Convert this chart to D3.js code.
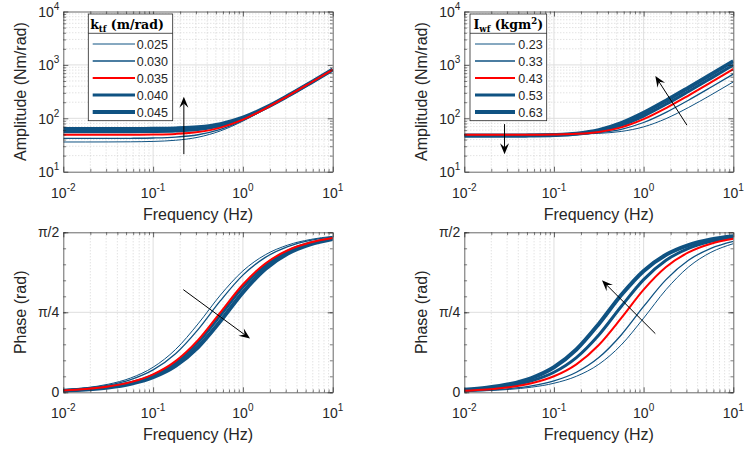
<!DOCTYPE html>
<html><head><meta charset="utf-8">
<script src="https://cdn.jsdelivr.net/npm/d3@7"></script>
<style>
body{margin:0;background:#fff}
svg{display:block;font-family:"Liberation Sans",Arial,Helvetica,sans-serif}
</style>
</head><body>
<svg id="fig" width="745" height="452"></svg>
<script>
// ---------------- data ----------------
const freqs = [0.01, 0.01778, 0.03162, 0.05623, 0.1, 0.1778, 0.3162, 0.5623, 1, 1.778, 3.162, 5.623, 10];

const ktfLabels = ["0.025", "0.030", "0.035", "0.040", "0.045"];
const iwfLabels = ["0.23", "0.33", "0.43", "0.53", "0.63"];

// amplitude (Nm/rad) for each k_tf
const ampKtf025 = [36.01, 36.03, 36.09, 36.29, 36.90, 38.78, 44.19, 58.08, 88.69, 148.5, 258.8, 457.2, 811.3];
const ampKtf030 = [42.01, 42.02, 42.08, 42.25, 42.77, 44.40, 49.20, 61.98, 91.29, 150.1, 259.7, 457.7, 811.6];
const ampKtf035 = [49.01, 49.02, 49.07, 49.21, 49.67, 51.08, 55.30, 66.92, 94.71, 152.2, 260.9, 458.4, 812.0];
const ampKtf040 = [56.01, 56.02, 56.06, 56.19, 56.58, 57.82, 61.59, 72.20, 98.51, 154.6, 262.3, 459.2, 812.4];
const ampKtf045 = [63.01, 63.02, 63.05, 63.17, 63.52, 64.63, 68.01, 77.76, 102.7, 157.3, 263.9, 460.1, 813.0];

// phase (rad) for each k_tf
const phKtf025 = [0.0251, 0.0447, 0.0792, 0.1404, 0.2461, 0.4202, 0.6712, 0.9548, 1.1919, 1.3505, 1.4456, 1.5001, 1.5310];
const phKtf030 = [0.0224, 0.0398, 0.0707, 0.1252, 0.2203, 0.3789, 0.6160, 0.8996, 1.1506, 1.3247, 1.4304, 1.4916, 1.5261];
const phKtf035 = [0.0178, 0.0316, 0.0561, 0.0997, 0.1760, 0.3063, 0.5122, 0.7854, 1.0586, 1.2645, 1.3948, 1.4711, 1.5147];
const phKtf040 = [0.0168, 0.0299, 0.0531, 0.0943, 0.1666, 0.2905, 0.4884, 0.7567, 1.0333, 1.2472, 1.3844, 1.4651, 1.5113];
const phKtf045 = [0.0150, 0.0267, 0.0474, 0.0841, 0.1488, 0.2604, 0.4424, 0.6996, 0.9814, 1.2109, 1.3622, 1.4524, 1.5040];

// amplitude (Nm/rad) for each I_wf
const ampIwf023 = [50.00, 50.01, 50.02, 50.07, 50.23, 50.72, 52.23, 56.75, 69.14, 98.54, 159.1, 273.1, 480.1];
const ampIwf033 = [49.50, 49.51, 49.55, 49.64, 49.95, 50.92, 53.87, 62.28, 83.49, 129.4, 218.3, 381.2, 674.1];
const ampIwf043 = [49.01, 49.02, 49.07, 49.22, 49.70, 51.17, 55.58, 67.65, 96.33, 155.4, 266.8, 469.0, 830.8];
const ampIwf053 = [48.01, 48.03, 48.10, 48.32, 49.02, 51.14, 57.35, 73.62, 110.3, 182.9, 317.5, 560.3, 993.9];
const ampIwf063 = [47.01, 47.05, 47.15, 47.46, 48.45, 51.43, 59.91, 81.08, 126.5, 214.1, 374.5, 662.4, 1175.9];

// phase (rad) for each I_wf
const phIwf023 = [0.0089, 0.0158, 0.0282, 0.0501, 0.0889, 0.1572, 0.2747, 0.4646, 0.7280, 1.0079, 1.2298, 1.3739, 1.4591];
const phIwf033 = [0.0112, 0.0200, 0.0355, 0.0630, 0.1117, 0.1969, 0.3410, 0.5629, 0.8428, 1.1062, 1.2961, 1.4136, 1.4819];
const phIwf043 = [0.0158, 0.0282, 0.0501, 0.0889, 0.1572, 0.2747, 0.4646, 0.7280, 1.0079, 1.2298, 1.3739, 1.4591, 1.5078];
const phIwf053 = [0.0200, 0.0355, 0.0630, 0.1117, 0.1969, 0.3410, 0.5629, 0.8428, 1.1062, 1.2961, 1.4136, 1.4819, 1.5207];
const phIwf063 = [0.0251, 0.0447, 0.0792, 0.1404, 0.2461, 0.4202, 0.6712, 0.9548, 1.1919, 1.3505, 1.4456, 1.5001, 1.5310];

// ticks
const xTickValues = [0.01, 0.1, 1, 10];
const xTickExps = ["-2", "-1", "0", "1"];
const ampTickValues = [10, 100, 1000, 10000];
const ampTickExps = ["1", "2", "3", "4"];
const phaseTickValues = [0, Math.PI / 4, Math.PI / 2];
const phaseTickLabels = ["0", "\u03C0/4", "\u03C0/2"];

// arrow annotations in data units [frequency, value]
const arrowsAmpKtf = [{from: [0.22, 21.3], to: [0.22, 253]}];
const arrowsAmpIwf = [{from: [3.04, 74.5], to: [1.35, 618]}, {from: [0.0281, 77.8], to: [0.0281, 21.3]}];
const arrowsPhKtf = [{from: [0.217, 1.008], to: [1.2, 0.527]}];
const arrowsPhIwf = [{from: [1.35, 0.576], to: [0.343, 1.0996]}];

// ---------------- styles ----------------
const BLUE = "#0f5282", RED = "#ff0000", INK = "#262626";
const seriesColors = [BLUE, BLUE, RED, BLUE, BLUE];
const seriesWidths = [1, 1.3, 2, 3, 4];
const drawOrder = [0, 1, 3, 4, 2];

const svg = d3.select("#fig");

const panels = [
  {x0: 63.3, x1: 332.7, y0: 11.5, y1: 171.7, kind: "amp",
   series: [ampKtf025, ampKtf030, ampKtf035, ampKtf040, ampKtf045], arrows: arrowsAmpKtf,
   ylabel: "Amplitude (Nm/rad)", ylabelX: 20,
   legend: {labels: ktfLabels, title: "ktf", x0: 88.3, x1: 172.7, y0: 14, y1: 120.7, div: 33.3,
            lx0: 92.7, lx1: 135, tx: 136.7, titleX: 127}},
  {x0: 464.3, x1: 733.3, y0: 11.5, y1: 171.7, kind: "amp",
   series: [ampIwf023, ampIwf033, ampIwf043, ampIwf053, ampIwf063], arrows: arrowsAmpIwf,
   ylabel: "Amplitude (Nm/rad)", ylabelX: 421.7,
   legend: {labels: iwfLabels, title: "iwf", x0: 470, x1: 546.7, y0: 14, y1: 120.7, div: 33.3,
            lx0: 475, lx1: 515, tx: 518.3, titleX: 508.3}},
  {x0: 63.3, x1: 332.7, y0: 232.3, y1: 392.3, kind: "phase",
   series: [phKtf025, phKtf030, phKtf035, phKtf040, phKtf045], arrows: arrowsPhKtf,
   ylabel: "Phase (rad)", ylabelX: 20},
  {x0: 464.3, x1: 733.3, y0: 232.3, y1: 392.3, kind: "phase",
   series: [phIwf023, phIwf033, phIwf043, phIwf053, phIwf063], arrows: arrowsPhIwf,
   ylabel: "Phase (rad)", ylabelX: 421.7}
];

function minorLog(e0, e1) {
  const out = [];
  for (let e = e0; e <= e1; e++) for (let m = 2; m <= 9; m++) out.push(+(m * Math.pow(10, e)).toPrecision(3));
  return out;
}

function drawArrow(g, xa, ya, xb, yb) {
  const dx = xb - xa, dy = yb - ya, len = Math.hypot(dx, dy);
  const ux = dx / len, uy = dy / len, nx = -uy, ny = ux;
  const L = 11, Wd = 4.5;
  const bx = xb - ux * L, by = yb - uy * L;
  const cx = xb - ux * L * 0.62, cy = yb - uy * L * 0.62;
  g.append("line").attr("x1", xa).attr("y1", ya).attr("x2", cx).attr("y2", cy)
    .attr("stroke", "#000").attr("stroke-width", 1);
  g.append("path")
    .attr("d", `M${xb},${yb}L${bx + nx * Wd},${by + ny * Wd}L${cx},${cy}L${bx - nx * Wd},${by - ny * Wd}Z`)
    .attr("fill", "#000");
}

panels.forEach((p, pi) => {
  const g = svg.append("g");
  const x = d3.scaleLog().domain([0.01, 10]).range([p.x0, p.x1]);
  const y = p.kind === "amp"
    ? d3.scaleLog().domain([10, 10000]).range([p.y1, p.y0])
    : d3.scaleLinear().domain([0, Math.PI / 2]).range([p.y1, p.y0]);

  g.append("rect").attr("x", p.x0).attr("y", p.y0).attr("width", p.x1 - p.x0).attr("height", p.y1 - p.y0).attr("fill", "#fff");

  // grid
  const grid = g.append("g");
  const xMinor = minorLog(-2, 0);
  grid.selectAll(".xm").data(xMinor).join("line")
    .attr("x1", d => x(d)).attr("x2", d => x(d)).attr("y1", p.y0).attr("y2", p.y1)
    .attr("stroke", "#c4c4c4").attr("stroke-width", 0.7).attr("stroke-dasharray", "1,2");
  if (p.kind === "amp") {
    const yMinor = minorLog(1, 3);
    grid.selectAll(".ym").data(yMinor).join("line")
      .attr("y1", d => y(d)).attr("y2", d => y(d)).attr("x1", p.x0).attr("x2", p.x1)
      .attr("stroke", "#c4c4c4").attr("stroke-width", 0.7).attr("stroke-dasharray", "1,2");
  }
  grid.selectAll(".xM").data([0.1, 1]).join("line")
    .attr("x1", d => x(d)).attr("x2", d => x(d)).attr("y1", p.y0).attr("y2", p.y1)
    .attr("stroke", "#dedede").attr("stroke-width", 1);
  const yMajorGrid = p.kind === "amp" ? [100, 1000] : [Math.PI / 4];
  grid.selectAll(".yM").data(yMajorGrid).join("line")
    .attr("y1", d => y(d)).attr("y2", d => y(d)).attr("x1", p.x0).attr("x2", p.x1)
    .attr("stroke", "#dedede").attr("stroke-width", 1);

  // curves
  const clipId = "clip" + pi;
  svg.append("defs").append("clipPath").attr("id", clipId).append("rect")
    .attr("x", p.x0).attr("y", p.y0).attr("width", p.x1 - p.x0).attr("height", p.y1 - p.y0);
  const line = d3.line().x(d => x(d[0])).y(d => y(d[1])).curve(d3.curveMonotoneX);
  const cg = g.append("g").attr("clip-path", `url(#${clipId})`);
  drawOrder.forEach(i => {
    cg.append("path").datum(freqs.map((f, j) => [f, p.series[i][j]]))
      .attr("d", line).attr("fill", "none")
      .attr("stroke", seriesColors[i]).attr("stroke-width", seriesWidths[i])
      .attr("stroke-linejoin", "round");
  });

  // axes (ticks inside, box)
  const xMaj = xTickValues, yMaj = p.kind === "amp" ? ampTickValues : phaseTickValues;
  const yMin = p.kind === "amp" ? minorLog(1, 3) : d3.range(0, 11).map(k => k * Math.PI / 20);
  const style = sel => { sel.selectAll("path,line").attr("stroke", INK).attr("stroke-width", 0.7); sel.selectAll("text").remove(); };
  g.append("g").attr("transform", `translate(0,${p.y1})`).call(d3.axisBottom(x).tickValues(xMaj).tickSizeInner(-5).tickSizeOuter(0).tickFormat("")).call(style);
  g.append("g").attr("transform", `translate(0,${p.y0})`).call(d3.axisTop(x).tickValues(xMaj).tickSizeInner(-5).tickSizeOuter(0).tickFormat("")).call(style);
  g.append("g").attr("transform", `translate(${p.x0},0)`).call(d3.axisLeft(y).tickValues(yMaj).tickSizeInner(-5).tickSizeOuter(0).tickFormat("")).call(style);
  g.append("g").attr("transform", `translate(${p.x1},0)`).call(d3.axisRight(y).tickValues(yMaj).tickSizeInner(-5).tickSizeOuter(0).tickFormat("")).call(style);
  const styleMinor = sel => { sel.select(".domain").remove(); sel.selectAll("line").attr("stroke", INK).attr("stroke-width", 0.6); sel.selectAll("text").remove(); };
  g.append("g").attr("transform", `translate(0,${p.y1})`).call(d3.axisBottom(x).tickValues(xMinor).tickSize(-2.8).tickFormat("")).call(styleMinor);
  g.append("g").attr("transform", `translate(0,${p.y0})`).call(d3.axisTop(x).tickValues(xMinor).tickSize(-2.8).tickFormat("")).call(styleMinor);
  g.append("g").attr("transform", `translate(${p.x0},0)`).call(d3.axisLeft(y).tickValues(yMin).tickSize(-2.8).tickFormat("")).call(styleMinor);
  g.append("g").attr("transform", `translate(${p.x1},0)`).call(d3.axisRight(y).tickValues(yMin).tickSize(-2.8).tickFormat("")).call(styleMinor);

  // x tick labels
  xTickValues.forEach((v, i) => {
    const t = g.append("text").attr("x", x(v)).attr("y", p.y1 + 26).attr("text-anchor", "middle")
      .attr("font-size", 14).attr("fill", INK);
    t.append("tspan").text("10");
    t.append("tspan").attr("dy", -7).attr("font-size", 10).text(xTickExps[i]);
  });
  // y tick labels
  if (p.kind === "amp") {
    ampTickValues.forEach((v, i) => {
      const t = g.append("text").attr("x", p.x0 - 4).attr("y", y(v) + 5.5).attr("text-anchor", "end")
        .attr("font-size", 14).attr("fill", INK);
      t.append("tspan").text("10");
      t.append("tspan").attr("dy", -7).attr("font-size", 10).text(ampTickExps[i]);
    });
  } else {
    phaseTickValues.forEach((v, i) => {
      g.append("text").attr("x", p.x0 - 4).attr("y", y(v) + 5).attr("text-anchor", "end")
        .attr("font-size", 14).attr("fill", INK).text(phaseTickLabels[i]);
    });
  }

  // axis labels
  g.append("text").attr("x", (p.x0 + p.x1) / 2).attr("y", p.y1 + 48).attr("text-anchor", "middle")
    .attr("font-size", 16).attr("fill", INK).text("Frequency (Hz)");
  g.append("text").attr("transform", `translate(${p.ylabelX},${(p.y0 + p.y1) / 2}) rotate(-90)`)
    .attr("dy", "0.35em").attr("text-anchor", "middle").attr("font-size", 16).attr("fill", INK).text(p.ylabel);

  // legend
  if (p.legend) {
    const L = p.legend;
    const lg = g.append("g");
    lg.append("rect").attr("x", L.x0).attr("y", L.y0).attr("width", L.x1 - L.x0).attr("height", L.y1 - L.y0)
      .attr("fill", "#fff").attr("stroke", INK).attr("stroke-width", 0.8);
    lg.append("line").attr("x1", L.x0).attr("x2", L.x1).attr("y1", L.div).attr("y2", L.div)
      .attr("stroke", INK).attr("stroke-width", 0.8);
    const tt = lg.append("text").attr("x", L.titleX).attr("y", 28.5).attr("text-anchor", "middle")
      .attr("font-family", "'DejaVu Serif','Liberation Serif',serif").attr("font-weight", "bold")
      .attr("font-size", 12.5).attr("fill", "#000");
    if (L.title === "ktf") {
      tt.append("tspan").text("k");
      tt.append("tspan").attr("dy", 3).attr("font-size", 8.5).text("tf");
      tt.append("tspan").attr("dy", -3).text(" (m/rad)");
    } else {
      tt.append("tspan").text("I");
      tt.append("tspan").attr("dy", 3).attr("font-size", 8.5).text("wf");
      tt.append("tspan").attr("dy", -3).text(" (kgm");
      tt.append("tspan").attr("dy", -5).attr("font-size", 8.5).text("2");
      tt.append("tspan").attr("dy", 5).text(")");
    }
    L.labels.forEach((lab, i) => {
      const ry = 44 + i * 17;
      lg.append("line").attr("x1", L.lx0).attr("x2", L.lx1).attr("y1", ry).attr("y2", ry)
        .attr("stroke", seriesColors[i]).attr("stroke-width", seriesWidths[i]);
      lg.append("text").attr("x", L.tx).attr("y", ry).attr("dy", "0.36em").attr("font-size", 12.5)
        .attr("fill", INK).text(lab);
    });
  }

  // arrows
  p.arrows.forEach(a => drawArrow(g, x(a.from[0]), y(a.from[1]), x(a.to[0]), y(a.to[1])));
});
</script>
</body></html>
